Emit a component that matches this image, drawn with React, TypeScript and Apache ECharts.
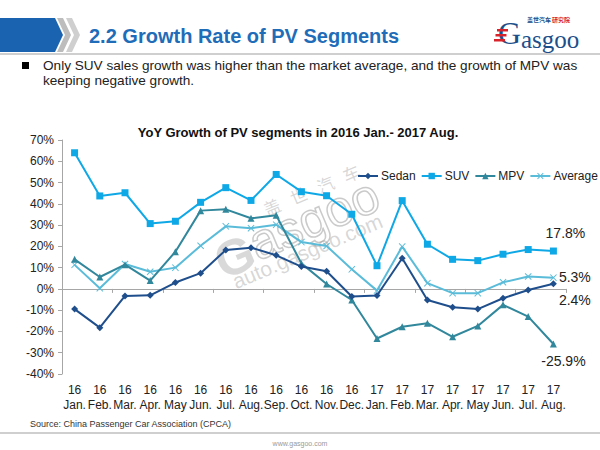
import React, { useEffect, useRef } from "react";
import * as echarts from "echarts";

const years = ["16","16","16","16","16","16","16","16","16","16","16","16","17","17","17","17","17","17","17","17"];
const months = ["Jan.","Feb.","Mar.","Apr.","May","Jun.","Jul.","Aug.","Sep.","Oct.","Nov.","Dec.","Jan.","Feb.","Mar.","Apr.","May","Jun.","Jul.","Aug."];
const categories = months.map((m, i) => years[i] + "\n" + m);

const sedan = [-9.5, -18.2, -3.3, -3.0, 3.0, 7.4, 18.3, 19.4, 15.8, 10.5, 8.3, -3.6, -3.1, 14.4, -5.2, -8.6, -9.5, -4.4, -0.5, 2.4];
const suv = [64.0, 43.7, 45.2, 30.7, 31.8, 40.7, 47.6, 41.6, 53.8, 45.7, 43.8, 35.1, 10.9, 41.5, 21.0, 13.9, 13.3, 16.3, 18.5, 17.8];
const mpv = [13.9, 5.6, 11.4, 3.9, 17.5, 36.8, 37.4, 33.2, 34.6, 12.0, 2.3, -5.2, -23.3, -17.8, -16.1, -22.5, -17.4, -7.5, -13.0, -25.9];
const average = [11.3, 0.3, 11.7, 8.1, 10.0, 20.3, 29.4, 28.5, 30.2, 22.0, 20.2, 9.2, -0.8, 19.9, 2.7, -2.0, -2.0, 3.1, 5.8, 5.3];

const yTicks = { min: -40, max: 70, interval: 10 };

const FONT = "'Liberation Sans', Arial, sans-serif";
const SERIF = "'Liberation Serif', 'DejaVu Serif', serif";
const X_SYMBOL = "path://M0,1L1,0L5,4L9,0L10,1L6,5L10,9L9,10L5,6L1,10L0,9L4,5Z";
const WM = "rgba(150,150,150,0.38)";

function withEndLabel(values: number[], label: any) {
  return values.map((v, i) =>
    i === values.length - 1
      ? { value: v, label: { show: true, formatter: v.toFixed(1) + "%", color: "#222", fontSize: 14, fontFamily: FONT, distance: 2, ...label } }
      : v
  );
}

export default function App() {
  const ref = useRef<HTMLDivElement>(null);
  useEffect(() => {
    const chart = echarts.init(ref.current!, null, { renderer: "svg" });
    const option: any = {
      animation: false,
      backgroundColor: "#fff",
      textStyle: { fontFamily: FONT },
      title: {
        text: "YoY Growth of PV segments in 2016 Jan.- 2017 Aug.",
        left: 293,
        top: 121,
        textAlign: "center",
        textStyle: { fontSize: 13, fontWeight: "bold", color: "#111", fontFamily: FONT },
      },
      legend: {
        left: 352,
        top: 165,
        width: 245,
        itemWidth: 20,
        itemHeight: 8,
        itemGap: 5,
        textStyle: { fontSize: 12, color: "#222", fontFamily: FONT, padding: [0, 0, 0, -2] },
        data: ["Sedan", "SUV", "MPV", "Average"],
      },
      grid: { left: 62, right: 34, top: 140, bottom: 76 },
      xAxis: [
        {
          type: "category",
          data: categories,
          boundaryGap: true,
          axisLine: { onZero: true, lineStyle: { color: "#A6A6A6", width: 1 } },
          axisTick: { show: true, length: 4, lineStyle: { color: "#A6A6A6" } },
          axisLabel: { show: false },
        },
        {
          type: "category",
          data: categories,
          position: "bottom",
          boundaryGap: true,
          axisLine: { show: false, onZero: false },
          axisTick: { show: false },
          axisLabel: { show: true, interval: 0, fontSize: 12, color: "#222", lineHeight: 15, margin: 8, fontFamily: FONT },
        },
      ],
      yAxis: {
        type: "value",
        min: yTicks.min,
        max: yTicks.max,
        interval: yTicks.interval,
        axisLine: { show: true, lineStyle: { color: "#A6A6A6" } },
        axisTick: { show: true, length: 4, lineStyle: { color: "#A6A6A6" } },
        axisLabel: { formatter: "{value}%", fontSize: 12, color: "#222", margin: 8, fontFamily: FONT },
        splitLine: { show: false },
      },
      series: [
        {
          name: "Sedan",
          type: "line",
          data: withEndLabel(sedan, { position: "right", offset: [0, 16] }),
          color: "#1F4E8C",
          lineStyle: { width: 2, color: "#1F4E8C" },
          symbol: "diamond",
          symbolSize: 7,
          itemStyle: { color: "#1F4E8C" },
          z: 5,
        },
        {
          name: "SUV",
          type: "line",
          data: withEndLabel(suv, { position: "top", offset: [12, -6] }),
          color: "#0FA8E6",
          lineStyle: { width: 2, color: "#0FA8E6" },
          symbol: "rect",
          symbolSize: 7,
          itemStyle: { color: "#0FA8E6" },
          z: 4,
        },
        {
          name: "MPV",
          type: "line",
          data: withEndLabel(mpv, { position: "bottom", offset: [10, 4] }),
          color: "#31879C",
          lineStyle: { width: 2, color: "#31879C" },
          symbol: "triangle",
          symbolSize: 7,
          itemStyle: { color: "#31879C" },
          z: 3,
        },
        {
          name: "Average",
          type: "line",
          data: withEndLabel(average, { position: "right", offset: [0, -1] }),
          color: "#5BBCD9",
          lineStyle: { width: 2, color: "#5BBCD9" },
          symbol: X_SYMBOL,
          symbolSize: 7,
          itemStyle: { color: "#5BBCD9" },
          z: 2,
        },
      ],
      graphic: [
        { type: "polygon", shape: { points: [[0, 18], [55, 18], [63, 35], [55, 52], [0, 52]] }, style: { fill: "#1A63B0" } },
        { type: "polygon", shape: { points: [[57, 18], [63, 18], [71, 35], [63, 52], [57, 52], [65, 35]] }, style: { fill: "#BDBDBD" } },
        { type: "polygon", shape: { points: [[66, 18], [72, 18], [80, 35], [72, 52], [66, 52], [74, 35]] }, style: { fill: "#CFCFCF" } },
        {
          type: "text", x: 89, y: 36,
          style: { text: "2.2 Growth Rate of PV Segments", font: "bold 20px " + FONT, fill: "#1F6DB8", textVerticalAlign: "middle" },
        },
        { type: "line", shape: { x1: 0, y1: 54, x2: 600, y2: 54 }, style: { stroke: "#CFCFCF", lineWidth: 2 } },
        // logo
        {
          type: "text", x: 498, y: 33,
          style: { text: "G", font: "32px " + SERIF, fill: "#1C4F8A", textVerticalAlign: "middle" },
        },
        { type: "rect", shape: { x: 497, y: 29, width: 11, height: 2.5 }, style: { fill: "#D8232A" } },
        { type: "rect", shape: { x: 495.5, y: 34, width: 11, height: 2.5 }, style: { fill: "#D8232A" } },
        { type: "rect", shape: { x: 494, y: 39, width: 11, height: 2.5 }, style: { fill: "#D8232A" } },
        {
          type: "text", x: 521, y: 39,
          style: { text: "asgoo", font: "25px " + SERIF, fill: "#1C4F8A", textVerticalAlign: "middle" },
        },
        {
          type: "text", x: 527, y: 19.5,
          style: { text: "盖世汽车", font: "bold 6px 'Noto Sans CJK SC', sans-serif", fill: "#1C4F8A", textVerticalAlign: "middle" },
        },
        {
          type: "text", x: 552, y: 19.5,
          style: { text: "研究院", font: "bold 6px 'Noto Sans CJK SC', sans-serif", fill: "#D8232A", textVerticalAlign: "middle" },
        },
        // bullet text
        { type: "rect", shape: { x: 22, y: 62, width: 7, height: 7 }, style: { fill: "#000" } },
        {
          type: "text", x: 43, y: 65,
          style: { text: "Only SUV sales growth was higher than the market average, and the growth of MPV was", font: "13.6px " + FONT, fill: "#222", textVerticalAlign: "middle" },
        },
        {
          type: "text", x: 43, y: 80,
          style: { text: "keeping negative growth.", font: "13.6px " + FONT, fill: "#222", textVerticalAlign: "middle" },
        },
        // watermark
        {
          type: "group", x: 300, y: 240, rotation: 0.4, z: -1,
          children: [
            { type: "text", x: -13, y: -42, style: { text: "盖", font: "17px 'Noto Sans CJK SC', sans-serif", fill: WM, textAlign: "center", textVerticalAlign: "middle" } },
            { type: "text", x: 16, y: -42, style: { text: "世", font: "17px 'Noto Sans CJK SC', sans-serif", fill: WM, textAlign: "center", textVerticalAlign: "middle" } },
            { type: "text", x: 45, y: -42, style: { text: "汽", font: "17px 'Noto Sans CJK SC', sans-serif", fill: WM, textAlign: "center", textVerticalAlign: "middle" } },
            { type: "text", x: 73, y: -42, style: { text: "车", font: "17px 'Noto Sans CJK SC', sans-serif", fill: WM, textAlign: "center", textVerticalAlign: "middle" } },
            { type: "text", x: -47, y: -14, style: { text: "asgoo", font: "50px " + FONT, lineHeight: 34, fill: "rgba(255,255,255,0)", stroke: "rgba(150,150,150,0.5)", lineWidth: 1.5, textAlign: "left", textVerticalAlign: "middle" } },
            { type: "text", x: -86, y: -10, style: { text: "G", font: "bold 50px " + FONT, lineHeight: 38, fill: "rgba(160,160,160,0.4)", textAlign: "left", textVerticalAlign: "middle" } },
            { type: "text", x: -78, y: 13, style: { text: "auto.gasgoo.com", font: "21px " + FONT, lineHeight: 18, fill: WM, textAlign: "left", textVerticalAlign: "middle" } },
          ],
        },
        // footer
        {
          type: "text", x: 30, y: 424,
          style: { text: "Source: China Passenger Car Association (CPCA)", font: "9px " + FONT, fill: "#333", textVerticalAlign: "middle" },
        },
        { type: "line", shape: { x1: 0, y1: 433, x2: 600, y2: 433 }, style: { stroke: "#BFBFBF", lineWidth: 1.5 } },
        {
          type: "text", x: 300, y: 443,
          style: { text: "www.gasgoo.com", font: "7px " + FONT, fill: "#999", textAlign: "center", textVerticalAlign: "middle" },
        },
      ],
    };
    chart.setOption(option);
    return () => chart.dispose();
  }, []);
  return <div ref={ref} style={{ width: 600, height: 450, position: "fixed", left: 0, top: 0 }} />;
}
